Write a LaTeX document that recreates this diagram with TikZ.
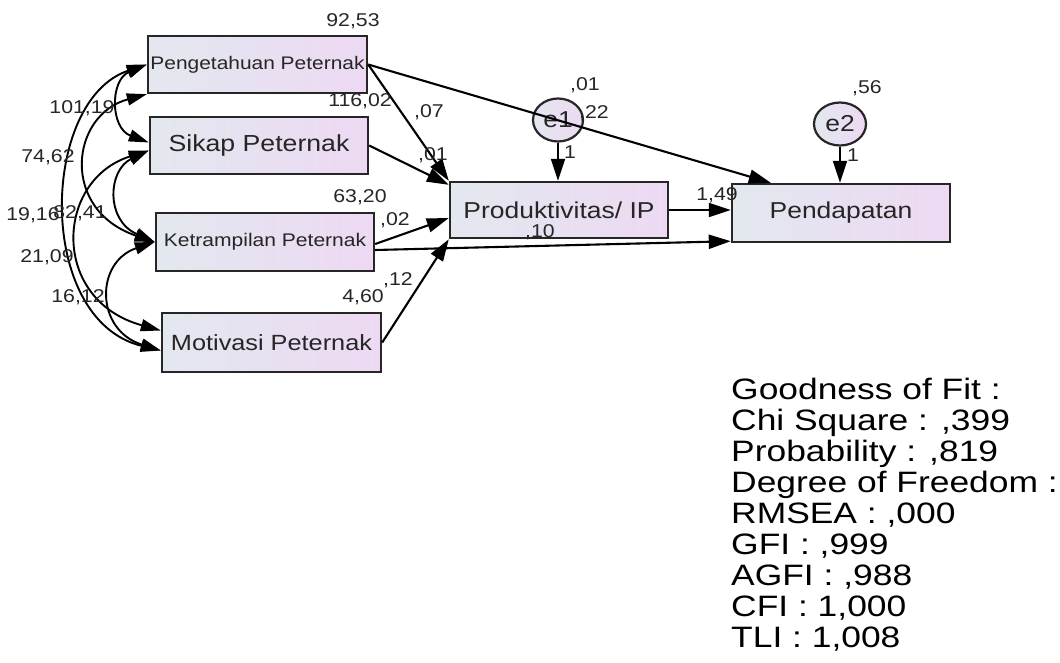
\documentclass[tikz,border=0pt]{standalone}
\usepackage{fontspec}
\setmainfont{Liberation Sans}[FakeStretch=1.15]
\newfontfamily\goffont{Liberation Sans}[FakeStretch=1.2]
\usetikzlibrary{arrows.meta,shapes.geometric,calc}
\definecolor{shL}{HTML}{E3E8EF}
\definecolor{shR}{HTML}{EDD9F3}
\definecolor{txt}{HTML}{262626}
\newcommand{\fs}[1]{\fontsize{#1}{#1}\selectfont}
\tikzset{
  box/.style={draw=black!85, line width=2.4pt, left color=shL, right color=shR,
    inner sep=0pt, text=txt},
  err/.style={ellipse, draw=black!85, line width=2.2pt, left color=shL, right color=shR,
    inner sep=0pt, text=txt, font=\fs{23}},
  pth/.style={line width=2.1pt, -{Triangle[length=22pt,width=14pt]}},
  cov/.style={line width=1.9pt, {Triangle[length=20pt,width=12pt]}-{Triangle[length=20pt,width=12pt]}},
  num/.style={font=\fs{18.5}, text=txt, inner sep=0pt},
  gof/.style={font=\goffont\fontsize{29.5}{29.5}\selectfont, text=black, inner sep=0pt, anchor=base west},
}
\begin{document}
\begin{tikzpicture}[x=1pt,y=-1pt]
\useasboundingbox (0,0) rectangle (1060,662);

% boxes
\node[box, minimum width=219pt, minimum height=57pt, font=\fs{18.2}] (peng) at (257.5,64.5) {Pengetahuan Peternak};
\node[box, minimum width=218pt, minimum height=57pt, font=\fs{23.2}] (sikap) at (259,145.5) {Sikap Peternak};
\node[box, minimum width=218pt, minimum height=58pt, font=\fs{18.3}] (ketr) at (265,242) {Ketrampilan Peternak};
\node[box, minimum width=219pt, minimum height=59pt, font=\fs{22}] (motiv) at (271.5,342.5) {Motivasi Peternak};
\node[box, minimum width=218pt, minimum height=56pt, font=\fs{23}] (prod) at (559,210) {Produktivitas/ IP};
\node[box, minimum width=218pt, minimum height=58pt, font=\fs{23}] (pend) at (841,213) {Pendapatan};

% error terms
\node[err, minimum width=50pt, minimum height=43pt] (e1) at (558,120) {e1};
\node[err, minimum width=52pt, minimum height=43pt] (e2) at (840,124) {e2};

% directed paths
\draw[pth] (peng.east) -- ($(pend.north west)+(40,0)$);
\draw[pth] (e1) -- (prod.north -| e1);
\draw[pth] (e2) -- (pend.north -| e2);
\draw[pth] (peng.east) -- (prod.north west);
\draw[pth] (sikap.east) -- ($(prod.north west)+(0,4)$);
\draw[pth] ($(ketr.east)+(0,2)$) -- ($(prod.west)+(0,8)$);
\draw[pth] ($(ketr.east)+(0,8)$) -- ($(pend.south west)+(0,-2)$);
\draw[pth] (motiv.east) -- (prod.south west);
\draw[pth] (prod.east) -- (prod.east -| pend.west);

% covariances
\draw[cov] (peng.west) .. controls (110,80) and (110,128) .. ($(sikap.west)+(0,-3)$);
\draw[cov] (peng.south west) .. controls (70,115) and (60,210) .. (ketr.west);
\draw[cov] (peng.west) .. controls (40,100) and (35,320) .. ($(motiv.west)+(0,8)$);
\draw[cov] ($(sikap.west)+(0,5)$) .. controls (108,170) and (105,220) .. (ketr.west);
\draw[cov] ($(sikap.west)+(0,5)$) .. controls (55,180) and (50,300) .. ($(motiv.west)+(0,-12)$);
\draw[cov] (ketr.west) .. controls (95,262) and (95,330) .. ($(motiv.west)+(0,8)$);

% estimates
\node[num] (l1) at (353,21) {92,53};
\node[num] (l2) at (360,101) {116,02};
\node[num] (l3) at (429,112) {,07};
\node[num] (l4) at (433,155) {,01};
\node[num] (l5) at (360,197) {63,20};
\node[num] (l6) at (395,220) {,02};
\node[num] (l7) at (398,280) {,12};
\node[num] (l8) at (363,297) {4,60};
\node[num] (l9) at (540,232) {,10};
\node[num] (l10) at (717,195) {1,49};
\node[num] (l11) at (585,85) {,01};
\node[num] (l12) at (594,113) {,22};
\node[num] (l13) at (570,152) {1};
\node[num] (l14) at (867,88) {,56};
\node[num] (l15) at (853,155) {1};
\node[num] (l16) at (82,108) {101,19};
\node[num] (l17) at (48,157) {74,62};
\node[num] (l18) at (33,215) {19,16};
\node[num] (l19) at (80,213) {82,41};
\node[num] (l20) at (47,257) {21,09};
\node[num] (l21) at (78,297) {16,12};

% goodness of fit
\node[gof] (g1) at (731,399) {Goodness of Fit :};
\node[gof] (g2) at (731,430) {Chi Square : ,399};
\node[gof] (g3) at (731,461) {Probability : ,819};
\node[gof] (g4) at (731,492) {Degree of Freedom :};
\node[gof] (g5) at (731,523) {RMSEA : ,000};
\node[gof] (g6) at (731,554) {GFI : ,999};
\node[gof] (g7) at (731,585) {AGFI : ,988};
\node[gof] (g8) at (731,616) {CFI : 1,000};
\node[gof] (g9) at (731,647) {TLI : 1,008};
\end{tikzpicture}
\end{document}
